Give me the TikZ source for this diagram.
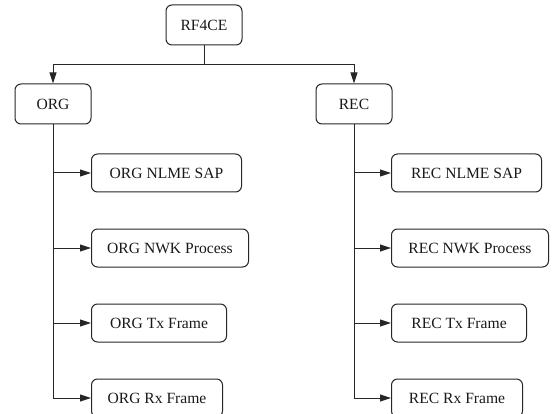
\documentclass[tikz,border=0pt]{standalone}
\usepackage{fontspec}
\setmainfont{Liberation Serif}
\usetikzlibrary{arrows.meta}
\begin{document}
\begin{tikzpicture}[x=1pt,y=-1pt,
 box/.style={draw=black!85, line width=1pt, rounded corners=6pt, minimum height=40pt, inner sep=0pt, font=\fontsize{15.6}{18}\selectfont, text=black!90},
 leaf/.style={box, minimum height=38pt, anchor=west},
 conn/.style={draw=black!85, line width=1pt},
 arr/.style={conn, -{Triangle[length=11pt,width=7pt]}}]
\clip (0,0) rectangle (554,414);
\useasboundingbox (0,0) rectangle (554,414);
\node[box, minimum width=76pt] (rf) at (204,25) {RF4CE};
\node[box, minimum width=76pt] (org) at (53,104) {ORG};
\node[box, minimum width=76pt] (rec) at (354,104) {REC};
\coordinate (bus) at (204,64.5);
\draw[conn] (rf.south) -- (bus);
\draw[arr] (bus) -| (org.north);
\draw[arr] (bus) -| (rec.north);
% ORG children
\node[leaf, minimum width=150pt] (o1) at (91,173) {ORG NLME SAP};
\node[leaf, minimum width=157pt] (o2) at (91,248) {ORG NWK Process};
\node[leaf, minimum width=135pt] (o3) at (91,323) {ORG Tx Frame};
\node[leaf, minimum width=131pt] (o4) at (91,398) {ORG Rx Frame};
\draw[arr] (org.south) |- (o4.west);
\draw[arr] (org.south |- o1.west) -- (o1.west);
\draw[arr] (org.south |- o2.west) -- (o2.west);
\draw[arr] (org.south |- o3.west) -- (o3.west);
% REC children
\node[leaf, minimum width=150pt] (r1) at (391,173) {REC NLME SAP};
\node[leaf, minimum width=157pt] (r2) at (391,248) {REC NWK Process};
\node[leaf, minimum width=135pt] (r3) at (391,323) {REC Tx Frame};
\node[leaf, minimum width=131pt] (r4) at (391,398) {REC Rx Frame};
\draw[arr] (rec.south) |- (r4.west);
\draw[arr] (rec.south |- r1.west) -- (r1.west);
\draw[arr] (rec.south |- r2.west) -- (r2.west);
\draw[arr] (rec.south |- r3.west) -- (r3.west);
\end{tikzpicture}
\end{document}
